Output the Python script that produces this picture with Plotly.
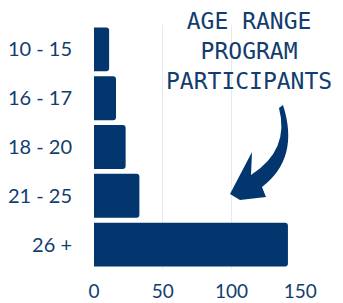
import plotly.graph_objects as go

categories = ["10 - 15", "16 - 17", "18 - 20", "21 - 25", "26 +"]
participants = [11, 16, 23, 33, 141]
x_ticks = [0, 50, 100, 150]
title_lines = ["AGE RANGE", "PROGRAM", "PARTICIPANTS"]

BAR = "#03356f"
TXT = "#123d6e"

W, H = 343, 303
L, R, T, B = 94, 42, 25, 34
PW, PH = W - L - R, H - T - B


def px(x):
    return (x - L) / PW


def py(y):
    return (H - B - y) / PH


def p(x, y):
    return f"{px(x):.4f},{py(y):.4f}"


fig = go.Figure(go.Bar(
    x=participants, y=categories, orientation="h",
    marker=dict(color=BAR, line=dict(width=0)),
))

arrow = (f"M {p(283,105)} Q {p(300,158)} {p(262,187)} L {p(266,197)} "
         f"L {p(240,200)} L {p(230,194)} L {p(252,152)} L {p(251,175)} "
         f"Q {p(290,150)} {p(279,108)} Z")

annotations = [dict(
    text="<br>".join(title_lines), xref="paper", yref="paper",
    x=px(249), y=py(51), xanchor="center", yanchor="middle",
    showarrow=False, align="center",
    font=dict(family="DejaVu Sans Mono", size=23, color=TXT),
)]

fig.update_layout(
    width=W, height=H,
    margin=dict(l=L, r=R, t=T, b=B, autoexpand=False),
    paper_bgcolor="white", plot_bgcolor="white",
    bargap=0.1, barcornerradius=3,
    showlegend=False,
    font=dict(family="Lato", color=TXT, size=20),
    xaxis=dict(range=[0, 150.5], tickvals=x_ticks, showgrid=True,
               gridcolor="#e6e9ee", gridwidth=1, zeroline=False,
               showline=False, ticks="outside", ticklen=5, automargin=False,
               tickcolor="rgba(0,0,0,0)", tickfont=dict(size=19, color=TXT)),
    yaxis=dict(categoryorder="array", categoryarray=categories[::-1],
               autorange=False, range=[-0.5, 4.5], automargin=False,
               showgrid=False, zeroline=False, showline=False,
               ticks="outside", ticklen=17, tickcolor="rgba(0,0,0,0)",
               tickfont=dict(size=20, color=TXT)),
    shapes=[dict(type="path", xref="paper", yref="paper", path=arrow,
                 fillcolor=BAR, line=dict(width=0), layer="above")],
    annotations=annotations,
)

fig.write_html("out.html", config={"displayModeBar": False},
               post_script="document.body.style.margin='0';document.body.style.overflow='hidden';")
